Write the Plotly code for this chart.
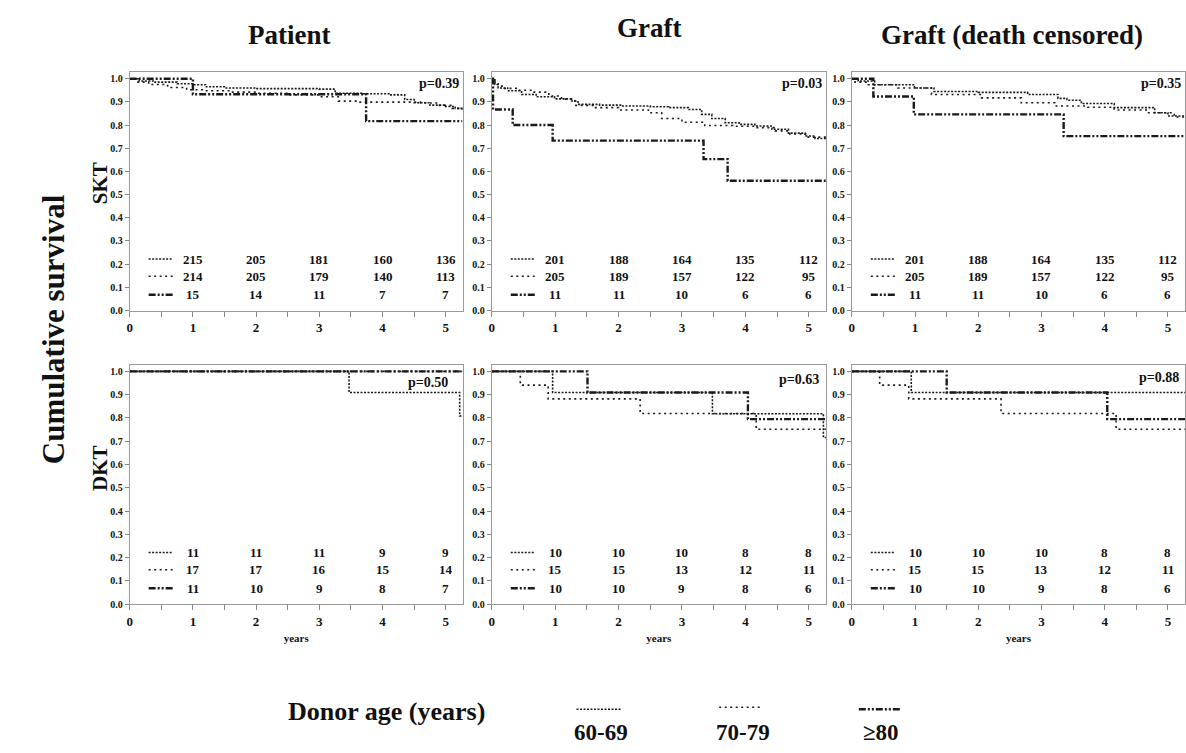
import plotly.graph_objects as go

FONT = "Liberation Serif, Times New Roman, serif"

# ---------------- data ----------------
GROUPS = ["60-69", "70-79", "≥80"]
COL_TITLES = ["Patient", "Graft", "Graft (death censored)"]
ROW_TITLES = ["SKT", "DKT"]
P_VALUES = ["p=0.39", "p=0.03", "p=0.35", "p=0.50", "p=0.63", "p=0.88"]
X_TICKS = [0, 1, 2, 3, 4, 5]
Y_TICKS = [0.0, 0.1, 0.2, 0.3, 0.4, 0.5, 0.6, 0.7, 0.8, 0.9, 1.0]
AT_RISK_COLS = [1, 2, 3, 4, 5]

# Panel 1: SKT patient survival
p1_6069_t = [0, 0.15, 0.4, 0.75, 1.0, 1.2, 1.5, 2.0, 3.0, 3.25, 3.7, 4.1, 4.35, 4.5, 4.75, 5.0, 5.15, 5.26]
p1_6069_s = [1.0, 0.99, 0.985, 0.978, 0.974, 0.965, 0.96, 0.957, 0.955, 0.937, 0.935, 0.93, 0.91, 0.896, 0.886, 0.88, 0.872, 0.865]
p1_7079_t = [0, 0.1, 0.3, 0.6, 0.9, 1.2, 1.6, 2.0, 2.5, 3.0, 3.3, 3.6, 4.6, 4.9, 5.1, 5.26]
p1_7079_s = [1.0, 0.985, 0.975, 0.962, 0.952, 0.948, 0.942, 0.937, 0.93, 0.922, 0.903, 0.899, 0.895, 0.885, 0.872, 0.865]
p1_80_t = [0, 1.0, 3.74, 5.26]
p1_80_s = [1.0, 0.933, 0.817, 0.817]

# Panel 2: SKT graft survival
p2_6069_t = [0, 0.05, 0.1, 0.25, 0.47, 0.7, 0.99, 1.26, 1.36, 1.7, 2.05, 2.5, 2.79, 3.1, 3.31, 3.47, 3.68, 3.9, 4.15, 4.42, 4.68, 4.94, 5.1, 5.26]
p2_6069_s = [1.0, 0.975, 0.96, 0.948, 0.932, 0.922, 0.913, 0.904, 0.889, 0.886, 0.882, 0.879, 0.875, 0.867, 0.846, 0.828, 0.81, 0.803, 0.796, 0.782, 0.765, 0.753, 0.742, 0.732]
p2_7079_t = [0, 0.05, 0.1, 0.2, 0.4, 0.63, 0.9, 1.1, 1.31, 1.6, 2.0, 2.47, 2.68, 3.0, 3.36, 3.8, 4.15, 4.47, 4.7, 4.95, 5.26]
p2_7079_s = [1.0, 0.978, 0.968, 0.958, 0.95, 0.942, 0.925, 0.912, 0.885, 0.875, 0.865, 0.853, 0.828, 0.812, 0.798, 0.795, 0.789, 0.775, 0.762, 0.748, 0.738]
p2_80_t = [0, 0.02, 0.33, 0.96, 3.34, 3.72, 5.27]
p2_80_s = [1.0, 0.867, 0.80, 0.733, 0.653, 0.56, 0.56]

# Panel 3: SKT graft survival, death censored
p3_6069_t = [0, 0.1, 0.36, 0.99, 1.3, 2.0, 2.78, 3.26, 3.4, 3.63, 4.15, 4.79, 5.0, 5.26]
p3_6069_s = [1.0, 0.99, 0.974, 0.96, 0.945, 0.941, 0.932, 0.915, 0.907, 0.893, 0.875, 0.853, 0.839, 0.835]
p3_7079_t = [0, 0.05, 0.26, 0.73, 1.26, 2.05, 2.68, 3.21, 3.73, 4.15, 4.68, 5.1, 5.26]
p3_7079_s = [1.0, 0.985, 0.974, 0.96, 0.932, 0.917, 0.896, 0.882, 0.877, 0.865, 0.853, 0.835, 0.832]
p3_80_t = [0, 0.34, 0.98, 3.35, 5.27]
p3_80_s = [1.0, 0.923, 0.846, 0.752, 0.752]

# Panel 4: DKT patient survival
p4_6069_t = [0, 3.47, 5.22, 5.26]
p4_6069_s = [1.0, 0.909, 0.808, 0.808]
p4_7079_t = [0, 5.26]
p4_7079_s = [1.0, 1.0]
p4_80_t = [0, 5.26]
p4_80_s = [1.0, 1.0]

# Panel 5: DKT graft survival
p5_6069_t = [0, 0.96, 3.48, 5.23, 5.27]
p5_6069_s = [1.0, 0.909, 0.818, 0.716, 0.716]
p5_7079_t = [0, 0.45, 0.89, 2.34, 4.17, 5.27]
p5_7079_s = [1.0, 0.941, 0.882, 0.819, 0.751, 0.751]
p5_80_t = [0, 1.51, 4.04, 5.27]
p5_80_s = [1.0, 0.909, 0.795, 0.795]

# Panel 6: DKT graft survival, death censored
p6_6069_t = [0, 0.94, 5.27]
p6_6069_s = [1.0, 0.909, 0.909]
p6_7079_t = [0, 0.44, 0.9, 2.36, 4.18, 5.27]
p6_7079_s = [1.0, 0.941, 0.882, 0.819, 0.751, 0.751]
p6_80_t = [0, 1.5, 4.04, 5.27]
p6_80_s = [1.0, 0.909, 0.795, 0.795]

# Numbers at risk (rows: 60-69, 70-79, >=80)
risk_p1 = [[215, 205, 181, 160, 136], [214, 205, 179, 140, 113], [15, 14, 11, 7, 7]]
risk_p2 = [[201, 188, 164, 135, 112], [205, 189, 157, 122, 95], [11, 11, 10, 6, 6]]
risk_p3 = [[201, 188, 164, 135, 112], [205, 189, 157, 122, 95], [11, 11, 10, 6, 6]]
risk_p4 = [[11, 11, 11, 9, 9], [17, 17, 16, 15, 14], [11, 10, 9, 8, 7]]
risk_p5 = [[10, 10, 10, 8, 8], [15, 15, 13, 12, 11], [10, 10, 9, 8, 6]]
risk_p6 = [[10, 10, 10, 8, 8], [15, 15, 13, 12, 11], [10, 10, 9, 8, 6]]

PANELS = [
    ([(p1_6069_t, p1_6069_s), (p1_7079_t, p1_7079_s), (p1_80_t, p1_80_s)], risk_p1),
    ([(p2_6069_t, p2_6069_s), (p2_7079_t, p2_7079_s), (p2_80_t, p2_80_s)], risk_p2),
    ([(p3_6069_t, p3_6069_s), (p3_7079_t, p3_7079_s), (p3_80_t, p3_80_s)], risk_p3),
    ([(p4_6069_t, p4_6069_s), (p4_7079_t, p4_7079_s), (p4_80_t, p4_80_s)], risk_p4),
    ([(p5_6069_t, p5_6069_s), (p5_7079_t, p5_7079_s), (p5_80_t, p5_80_s)], risk_p5),
    ([(p6_6069_t, p6_6069_s), (p6_7079_t, p6_7079_s), (p6_80_t, p6_80_s)], risk_p6),
]

# ---------------- styling / layout ----------------
LINE_COLOR = "#1a1a1a"
STYLES = [
    dict(dash="2px,1.5px", width=1.6),
    dict(dash="2px,3.5px", width=1.6),
    dict(dash="7px,2px,2px,2px,2px,2px", width=2.4),
]
W, H = 1186, 753
COL_DOM = [(127 / W, 461 / W), (490 / W, 825 / W), (851 / W, 1185 / W)]
ROW_DOM = [(1 - 313 / H, 1 - 73 / H), (1 - 609 / H, 1 - 368 / H)]
X_RANGE = [0, 5.27]
Y_RANGE = [0, 1.027]
RISK_Y = [0.222, 0.148, 0.068]
SAMPLE_X = [0.3, 0.68]
P_POS = [(5.24, 0.979), (5.24, 0.979), (5.24, 0.979), (5.06, 0.952), (5.2, 0.966), (5.2, 0.973)]

fig = go.Figure()
annotations = []

for idx, (curves, risk) in enumerate(PANELS):
    r, c = divmod(idx, 3)
    n = idx + 1
    xa = "x" if n == 1 else f"x{n}"
    ya = "y" if n == 1 else f"y{n}"
    for g, ((t, s), st) in enumerate(zip(curves, STYLES)):
        fig.add_trace(go.Scatter(
            x=t, y=s, mode="lines", line_shape="hv",
            line=dict(color=LINE_COLOR, width=st["width"], dash=st["dash"]),
            xaxis=xa, yaxis=ya, showlegend=False, hoverinfo="skip"))
        # at-risk sample line
        fig.add_trace(go.Scatter(
            x=SAMPLE_X, y=[RISK_Y[g]] * 2, mode="lines",
            line=dict(color=LINE_COLOR, width=st["width"], dash=st["dash"]),
            xaxis=xa, yaxis=ya, showlegend=False, hoverinfo="skip"))
        for xc, val in zip(AT_RISK_COLS, risk[g]):
            annotations.append(dict(
                x=xc, y=RISK_Y[g], xref=xa, yref=ya, text=str(val), showarrow=False,
                font=dict(family=FONT, size=13, color="#111", weight="bold"),
                xanchor="center", yanchor="middle"))
    px, py = P_POS[idx]
    annotations.append(dict(
        x=px, y=py, xref=xa, yref=ya, text=P_VALUES[idx], showarrow=False,
        font=dict(family=FONT, size=14, color="#111", weight="bold"),
        xanchor="right", yanchor="middle"))

    axis_common = dict(showline=True, linecolor="#9a9a9a", linewidth=1, mirror=True,
                       ticks="outside", ticklen=5, tickcolor="#888", tickwidth=1,
                       showgrid=False, zeroline=False, fixedrange=True)
    xaxis = dict(axis_common, domain=list(COL_DOM[c]), range=X_RANGE, anchor=ya,
                 tickvals=X_TICKS, ticktext=[str(v) for v in X_TICKS],
                 tickfont=dict(family=FONT, size=13, color="#111", weight="bold"),
                 minor=dict(dtick=0.5, tick0=0, ticks="outside", ticklen=5, tickcolor="#888"))
    if r == 1:
        xaxis["title"] = dict(text="years", standoff=6,
                              font=dict(family=FONT, size=11, color="#111", weight="bold"))
    yaxis = dict(axis_common, domain=list(ROW_DOM[r]), range=Y_RANGE, anchor=xa,
                 tickvals=Y_TICKS, ticktext=[f"{v:.1f}" for v in Y_TICKS], ticklen=4,
                 tickfont=dict(family=FONT, size=10, color="#111", weight="bold"))
    fig.update_layout(**{("xaxis" if n == 1 else f"xaxis{n}"): xaxis,
                         ("yaxis" if n == 1 else f"yaxis{n}"): yaxis})

# column titles
for (cx, cy), txt in zip([(287, 35), (648, 28), (1012, 35)], COL_TITLES):
    annotations.append(dict(x=cx / W, y=1 - cy / H, xref="paper", yref="paper", text=txt,
                            showarrow=False, xanchor="center", yanchor="middle",
                            font=dict(family=FONT, size=27, color="#111", weight="bold")))
# row titles
for cy, txt in zip([185, 472], ROW_TITLES):
    annotations.append(dict(x=97 / W, y=1 - cy / H, xref="paper", yref="paper", text=txt,
                            showarrow=False, textangle=-90, xanchor="center", yanchor="middle",
                            font=dict(family=FONT, size=21, color="#111", weight="bold")))
annotations.append(dict(x=50 / W, y=1 - 332 / H, xref="paper", yref="paper",
                        text="Cumulative survival", showarrow=False, textangle=-90,
                        xanchor="center", yanchor="middle",
                        font=dict(family=FONT, size=31, color="#111", weight="bold")))

# bottom legend
annotations.append(dict(x=384 / W, y=1 - 717 / H, xref="paper", yref="paper",
                        text="Donor age (years)", showarrow=False, xanchor="center",
                        yanchor="middle",
                        font=dict(family=FONT, size=26, color="#111", weight="bold")))
shapes = []
LEG_SAMPLES = [(575, 620, 715), (718, 762, 713), (858, 900, 715)]
LEG_LABEL_X = [600, 742, 880]
for (x0, x1, yy), lx, st, g in zip(LEG_SAMPLES, LEG_LABEL_X, STYLES, GROUPS):
    shapes.append(dict(type="line", xref="paper", yref="paper", x0=x0 / W, x1=x1 / W,
                       y0=1 - yy / H, y1=1 - yy / H,
                       line=dict(color=LINE_COLOR, width=st["width"], dash=st["dash"])))
    annotations.append(dict(x=lx / W, y=1 - 738 / H, xref="paper", yref="paper", text=g,
                            showarrow=False, xanchor="center", yanchor="middle",
                            font=dict(family=FONT, size=23, color="#111", weight="bold")))

fig.update_layout(width=W, height=H, margin=dict(l=0, r=0, t=0, b=0),
                  paper_bgcolor="white", plot_bgcolor="white",
                  annotations=annotations, shapes=shapes, showlegend=False)

fig.write_html("out.html", config={"displayModeBar": False},
               post_script="document.body.style.margin='0';document.body.style.overflow='hidden';")
